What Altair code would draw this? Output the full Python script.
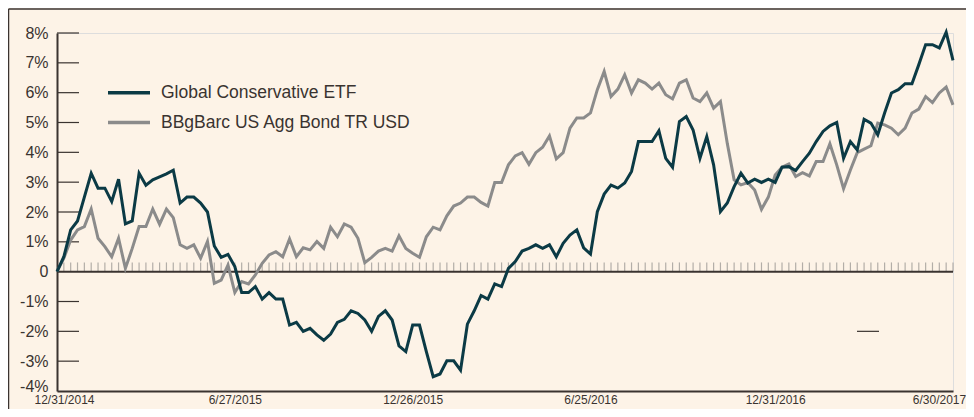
import altair as alt
import pandas as pd

series_names = ["Global Conservative ETF", "BBgBarc US Agg Bond TR USD"]
series_colors = ["#0b3a45", "#8b8b8b"]

etf = [0, 0.5, 1.4, 1.7, 2.5, 3.3, 2.8, 2.8, 2.35, 3.1,
       1.6, 1.7, 3.3, 2.9, 3.08, 3.18, 3.28, 3.4, 2.3, 2.5,
       2.5, 2.3, 2.0, 0.86, 0.48, 0.58, 0.17, -0.7, -0.7, -0.5,
       -0.92, -0.7, -0.92, -0.92, -1.79, -1.7, -2.0, -1.9, -2.12, -2.3,
       -2.09, -1.7, -1.6, -1.31, -1.4, -1.62, -2.0, -1.5, -1.31, -1.62,
       -2.49, -2.68, -1.79, -1.79, -2.68, -3.52, -3.43, -2.99, -2.99, -3.3,
       -1.76, -1.31, -0.8, -0.92, -0.41, -0.5, 0.11, 0.34, 0.69, 0.78,
       0.9, 0.78, 0.9, 0.5, 0.95, 1.23, 1.4, 0.8, 0.59, 2.01,
       2.6, 2.9, 2.8, 2.97, 3.36, 4.36, 4.36, 4.36, 4.72, 3.8,
       3.5, 5.03, 5.2, 4.75, 3.8, 4.53, 3.58, 2.01, 2.3, 2.85,
       3.3, 2.97, 3.1, 2.99, 3.1, 2.99, 3.5, 3.52, 3.39, 3.69,
       3.97, 4.36, 4.7, 4.89, 5.0, 3.8, 4.36, 4.08, 5.11, 4.98,
       4.59, 5.32, 5.99, 6.1, 6.3, 6.3, 6.94, 7.61, 7.61, 7.5,
       8.03, 7.08]

agg = [0, 0.45, 1.06, 1.4, 1.51, 2.1, 1.12, 0.84, 0.5, 1.12,
       0.11, 0.78, 1.51, 1.51, 2.1, 1.59, 2.1, 1.81, 0.9, 0.78,
       0.9, 0.45, 1.01, -0.39, -0.28, 0.22, -0.7, -0.33, -0.41, -0.11,
       0.28, 0.56, 0.67, 0.5, 1.1, 0.5, 0.8, 0.73, 1.01, 0.78,
       1.49, 1.17, 1.6, 1.49, 1.12, 0.3, 0.48, 0.69, 0.78, 0.69,
       1.2, 0.78, 0.62, 0.48, 1.17, 1.49, 1.4, 1.87, 2.2, 2.3,
       2.5, 2.5, 2.32, 2.2, 2.99, 2.99, 3.58, 3.88, 3.99, 3.6,
       3.99, 4.17, 4.55, 3.78, 3.99, 4.81, 5.15, 5.15, 5.32, 6.1,
       6.71, 5.87, 6.12, 6.6, 5.99, 6.43, 6.32, 6.12, 6.32, 5.93,
       5.79, 6.32, 6.43, 5.82, 5.7, 5.99, 5.48, 5.7, 4.3, 3.08,
       2.91, 2.99, 2.74, 2.09, 2.5, 3.24, 3.5, 3.61, 3.19, 3.32,
       3.21, 3.69, 3.69, 4.29, 3.58, 2.78, 3.41, 3.99, 4.11, 4.22,
       4.98, 4.92, 4.81, 4.59, 4.81, 5.32, 5.45, 5.87, 5.67, 5.99,
       6.19, 5.59]

x_labels = ["12/31/2014", "6/27/2015", "12/26/2015", "6/25/2016", "12/31/2016", "6/30/2017"]
y_values = [-4, -3, -2, -1, 0, 1, 2, 3, 4, 5, 6, 7, 8]
y_inner_ticks = [-3, -2, -1, 1, 2, 3, 4, 5, 6, 7, 8]
legend_rows = [6, 5]

saturdays = pd.date_range("2015-01-03", "2017-06-24", freq="7D")
dates = ["12/31/2014"] + [f"{d.month}/{d.day}/{d.year}" for d in saturdays] + ["6/30/2017"]

W, H = 896, 358
DARK = "#3a3330"
BG = "#fdf3e7"
FONT = "Liberation Sans"

df = pd.concat([
    pd.DataFrame({"date": dates, "value": agg, "series": series_names[1]}),
    pd.DataFrame({"date": dates, "value": etf, "series": series_names[0]}),
])

ydom = alt.Scale(domain=[-4, 8], nice=False, zero=False)
xscale = alt.Scale(type="point", domain=dates, padding=0)
xaxis = alt.Axis(values=x_labels, ticks=False, grid=False, domainColor=DARK, domainWidth=2,
                 labelFont=FONT, labelFontSize=12,
                 labelColor=DARK, labelPadding=3, labelAngle=0, labelFlush=False,
                 labelOffset={"condition": [
                     {"test": "datum.value == '12/31/2014'", "value": 7},
                     {"test": "datum.value == '6/30/2017'", "value": -14}],
                     "value": 0},
                 labelOverlap=False, title=None)
yaxis = alt.Axis(values=y_values, tickCount=13, ticks=False, grid=False, domainColor=DARK,
                 domainWidth=2,
                 labelExpr="datum.value == 0 ? '0' : datum.value + '%'",
                 labelOffset={"condition": {"test": "datum.value == -4", "value": -5},
                              "value": 0},
                 labelOverlap=False, labelFont=FONT, labelFontSize=16, labelColor=DARK,
                 labelPadding=9, title=None)

one = pd.DataFrame({"a": [0]})
color_scale = alt.Scale(domain=series_names, range=series_colors)

border_top = alt.Chart(one).mark_rule(color=DARK, strokeWidth=1.5).encode(
    x=alt.value(-48.5), x2=alt.value(W + 20), y=alt.value(-24))
border_left = alt.Chart(one).mark_rule(color=DARK, strokeWidth=1.5).encode(
    x=alt.value(-48.5), y=alt.value(-24), y2=alt.value(H + 30))

tick_df = pd.DataFrame({"date": dates[1:], "base": 0.0, "top": 0.31})
minor_ticks = alt.Chart(tick_df).mark_rule(color="#b3aea8", strokeWidth=1.2).encode(
    x=alt.X("date:O", scale=xscale, axis=xaxis, sort=None),
    y=alt.Y("base:Q", scale=ydom, axis=yaxis),
    y2="top:Q",
)

zero_line = alt.Chart(one).mark_rule(color=DARK, strokeWidth=2).encode(
    y=alt.Y(datum=0, type="quantitative", scale=ydom, axis=yaxis),
    x=alt.value(0), x2=alt.value(W))

inner_df = pd.DataFrame({"v": y_inner_ticks})
inner_ticks = alt.Chart(inner_df).mark_rule(color=DARK, strokeWidth=1.2).encode(
    y=alt.Y("v:Q", scale=ydom, axis=yaxis), x=alt.value(0), x2=alt.value(22))

stray = alt.Chart(one).mark_rule(color=DARK, strokeWidth=1.2).encode(
    y=alt.Y(datum=-2, type="quantitative", scale=ydom, axis=yaxis),
    x=alt.value(800), x2=alt.value(822))

lines = alt.Chart(df).mark_line(strokeWidth=3, strokeJoin="miter").encode(
    x=alt.X("date:O", scale=xscale, axis=xaxis, sort=None),
    y=alt.Y("value:Q", scale=ydom, axis=yaxis),
    color=alt.Color("series:N", scale=color_scale, legend=None),
    detail="series:N",
    order=alt.Order("idx:Q"),
).transform_window(idx="row_number()", groupby=["series"])

leg_df = pd.DataFrame({"name": series_names, "pos": legend_rows})
leg_lines = alt.Chart(leg_df).mark_rule(strokeWidth=3.5).encode(
    y=alt.Y("pos:Q", scale=ydom, axis=yaxis), x=alt.value(51), x2=alt.value(93),
    color=alt.Color("name:N", scale=color_scale, legend=None))
leg_text = alt.Chart(leg_df).mark_text(align="left", baseline="middle", font=FONT,
                                       fontSize=17.5, color=DARK).encode(
    y=alt.Y("pos:Q", scale=ydom, axis=yaxis), x=alt.value(104), text="name:N")

chart = alt.layer(
    border_top, border_left, minor_ticks, zero_line, inner_ticks, stray,
    lines, leg_lines, leg_text
).properties(
    width=W, height=H,
    autosize=alt.AutoSizeParams(type="none"),
    padding={"left": 49, "top": 25, "right": 13, "bottom": 18},
    background=BG,
).configure_view(stroke=None).configure(font=FONT)

chart.save("out.html", embed_options={"renderer": "svg", "actions": False})
